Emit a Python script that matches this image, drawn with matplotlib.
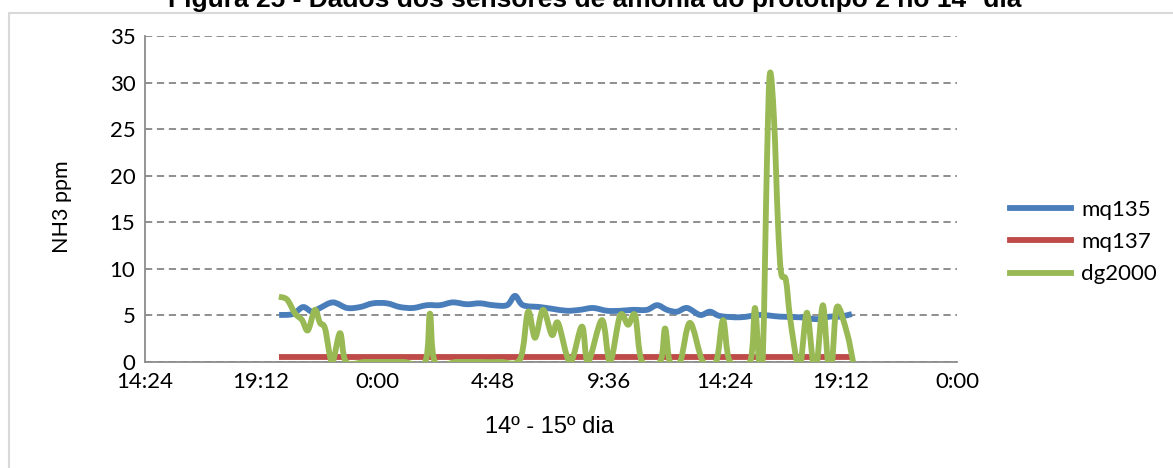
import matplotlib
matplotlib.use('Agg')
import matplotlib.pyplot as plt
from matplotlib.patches import Rectangle, PathPatch
from matplotlib.path import Path

# hours counted from 0:00 of day 14
mq135_h = [19.95, 20.52, 20.94, 21.31, 21.64, 22.18, 22.76, 23.30, 23.83, 24.41,
           24.95, 25.49, 26.07, 26.61, 27.14, 27.72, 28.26, 28.80, 29.38, 29.71,
           30.04, 30.74, 31.28, 31.86, 32.40, 32.94, 33.52, 34.06, 34.59, 35.17,
           35.59, 36.00, 36.41, 36.83, 37.37, 37.78, 38.19, 39.02, 39.85, 40.68,
           41.50, 42.21, 42.74, 43.16, 43.65]
mq135 = [5.05, 5.15, 5.9, 5.4, 5.8, 6.4, 5.8, 5.9, 6.3, 6.3,
         5.9, 5.8, 6.1, 6.1, 6.4, 6.2, 6.3, 6.1, 6.1, 7.1,
         6.1, 5.9, 5.7, 5.5, 5.6, 5.8, 5.5, 5.5, 5.6, 5.6,
         6.1, 5.6, 5.4, 5.8, 5.05, 5.4, 4.94, 4.8, 5.05, 4.87,
         4.8, 4.6, 4.87, 4.87, 5.15]

mq137_h = [19.95, 43.65]
mq137 = [0.5, 0.5]

dg2000_h = [19.94, 20.28, 20.61, 20.90, 21.14, 21.43, 21.64, 21.85, 22.14, 22.47,
            22.72, 23.5, 24.3, 25.1, 25.99, 26.19, 26.40, 27.3, 28.2, 29.1,
            29.92, 30.25, 30.54, 30.87, 31.24, 31.49,
            31.99, 32.48, 32.73, 33.31, 33.64, 34.06, 34.39, 34.68, 34.97, 35.71,
            35.92, 36.12, 36.54, 36.95, 37.49, 38.03, 38.32, 38.61, 39.43, 39.64,
            39.81, 39.97, 40.14, 40.26, 40.43, 40.59, 40.72, 40.92, 41.09, 41.38,
            41.54, 41.79, 42.04, 42.21, 42.45, 42.66, 42.83, 43.03, 43.45, 43.70]
dg2000 = [7.0, 6.7, 5.2, 4.5, 3.4, 5.6, 4.2, 3.6, 0.0, 3.1,
          0.0, 0.0, 0.0, 0.0, 0.0, 5.2, 0.0, 0.0, 0.0, 0.0,
          0.3, 5.4, 2.6, 5.6, 2.9, 4.2,
          0.0, 3.8, 0.0, 4.5, 0.0, 5.0, 4.0, 5.0, 0.0, 0.0,
          3.6, 0.0, 0.0, 4.2, 0.0, 0.0, 4.5, 0.0, 0.0, 5.8,
          0.0, 1.0, 22.0, 31.0, 26.0, 15.0, 9.6, 8.8, 4.8, 0.0,
          0.0, 5.3, 0.0, 0.0, 6.1, 0.0, 0.0, 5.9, 3.1, 0.0]

tick_hours = [14.4, 19.2, 24.0, 28.8, 33.6, 38.4, 43.2, 48.0]
tick_labels = ['14:24', '19:12', '0:00', '4:48', '9:36', '14:24', '19:12', '0:00']

plt.rcParams['font.family'] = ['Lato', 'DejaVu Sans']

BLUE, RED, GREEN = '#4a7ebb', '#be4b48', '#98b954'
LW = 4.2


def smooth_path(xs, ys):
    # excel-like smoothed line: bezier through the read points
    verts = [(xs[0], ys[0])]
    codes = [Path.MOVETO]
    n = len(xs)
    for i in range(n - 1):
        x0, y0 = xs[max(i - 1, 0)], ys[max(i - 1, 0)]
        x1, y1 = xs[i], ys[i]
        x2, y2 = xs[i + 1], ys[i + 1]
        x3, y3 = xs[min(i + 2, n - 1)], ys[min(i + 2, n - 1)]
        verts += [(x1 + (x2 - x0) / 6, y1 + (y2 - y0) / 6),
                  (x2 - (x3 - x1) / 6, y2 - (y3 - y1) / 6),
                  (x2, y2)]
        codes += [Path.CURVE4] * 3
    return Path(verts, codes)


W, H = 1173, 468
fig = plt.figure(figsize=(W / 100, H / 100), dpi=100)
ax = fig.add_axes([145 / W, 1 - 362 / H, (957 - 145) / W, (362 - 36) / H])

ax.add_patch(PathPatch(smooth_path(mq135_h, mq135), fill=False, edgecolor=BLUE, lw=LW,
                       joinstyle='round', capstyle='butt', zorder=3))
ax.plot(mq137_h, mq137, color=RED, lw=LW, solid_capstyle='butt', zorder=3)
ax.add_patch(PathPatch(smooth_path(dg2000_h, dg2000), fill=False, edgecolor=GREEN, lw=LW,
                       joinstyle='round', capstyle='butt', zorder=3))

# legend entries
ax.plot([], [], color=BLUE, lw=LW, label='mq135')
ax.plot([], [], color=RED, lw=LW, label='mq137')
ax.plot([], [], color=GREEN, lw=LW, label='dg2000')

ax.set_xlim(14.4, 48.0)
ax.set_ylim(0, 35)
ax.set_xticks(tick_hours)
ax.set_xticklabels(tick_labels)
ax.set_yticks(range(0, 36, 5))
ax.tick_params(length=0, labelsize=16, colors='black')
ax.tick_params(axis='y', pad=7)
ax.tick_params(axis='x', pad=7)

ax.yaxis.grid(True, color='#868686', lw=1.3, linestyle=(0, (4, 2.6)))
ax.set_axisbelow(True)
for s in ['top', 'right']:
    ax.spines[s].set_visible(False)
for s in ['left', 'bottom']:
    ax.spines[s].set_color('#8c8c8c')
    ax.spines[s].set_linewidth(1.3)

fig.text(62 / W, 1 - 207 / H, 'NH3 ppm', rotation=90, ha='center', va='center', fontsize=15.5)
fig.text(549 / W, 1 - 427 / H, '14º - 15º dia', ha='center', va='center', fontsize=17,
         family=['Liberation Sans', 'DejaVu Sans'])

fig.text(595 / W, 1 - 7 / H, 'Figura 25 - Dados dos sensores de amônia do protótipo 2 no 14º dia',
         ha='center', va='baseline', fontsize=19, fontweight='bold', family='Liberation Sans')

fig.legend(loc='upper left', bbox_to_anchor=(1010 / W, 1 - 200 / H), frameon=False,
           fontsize=16, handlelength=2.75, handletextpad=0.45, labelspacing=0.55,
           borderpad=0, borderaxespad=0)

fig.patches.append(Rectangle((9 / W, -0.1), 1.2, 1.1 - 13 / H, transform=fig.transFigure,
                             fill=False, edgecolor='#d9d9d9', lw=1.5))

fig.savefig('out.png', dpi=100)
